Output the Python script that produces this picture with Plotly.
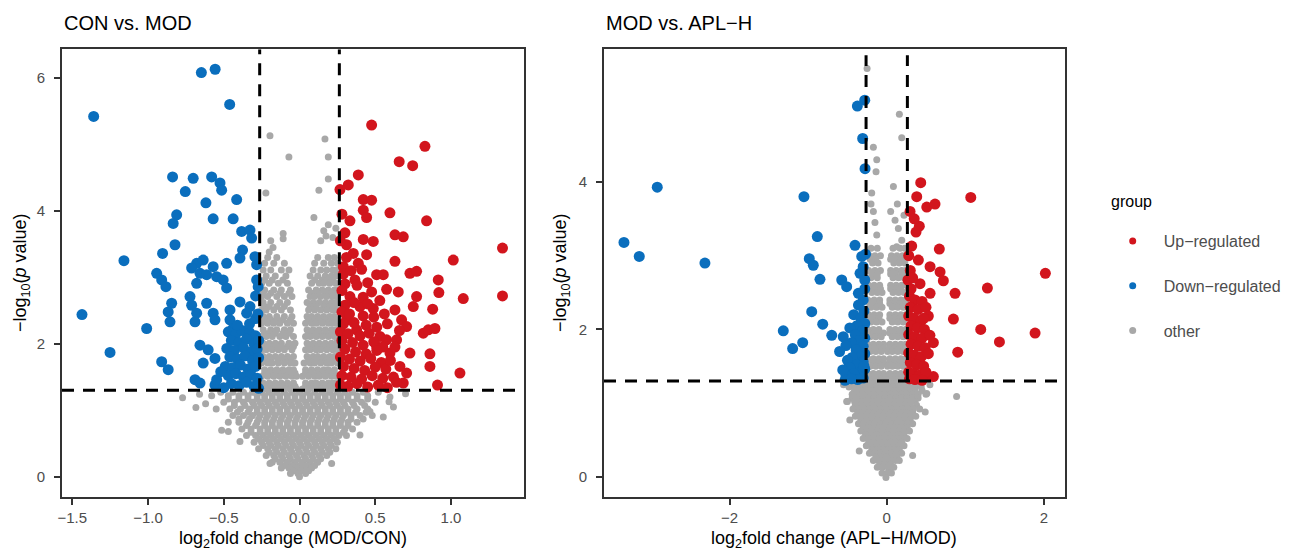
import plotly.graph_objects as go

W, H = 1292, 554
OX, OY = 8, 8  # page body margin offset
RED = "#D2151D"
BLUE = "#0A6EBD"
GRAY = "#A8A8A8"
FONT = "Liberation Sans, Arial, sans-serif"

# ---------------- Panel 1: CON vs. MOD ----------------
L_DOWN = [(-1.359, 5.42), (-0.648, 6.08), (-0.557, 6.13), (-0.461, 5.60),
          (-0.838, 4.51), (-0.702, 4.49), (-0.580, 4.51), (-0.525, 4.42), (-0.514, 4.31), (-0.754, 4.29),
          (-0.415, 4.17), (-0.618, 4.12), (-0.811, 3.94), (-0.834, 3.81), (-0.570, 3.88), (-0.438, 3.88),
          (-0.382, 3.69), (-0.327, 3.71), (-0.316, 3.59), (-0.822, 3.49), (-0.904, 3.36), (-1.159, 3.25),
          (-0.376, 3.41), (-0.393, 3.29), (-0.294, 3.31), (-0.283, 3.19), (-0.679, 3.21), (-0.636, 3.26),
          (-0.712, 3.14), (-0.570, 3.16), (-0.657, 3.06), (-0.613, 3.04), (-0.547, 3.01), (-0.481, 3.21),
          (-0.943, 3.06), (-0.910, 2.96), (-0.882, 2.86), (-0.679, 2.91), (-0.504, 2.96), (-0.481, 2.84),
          (-0.283, 2.96), (-0.273, 2.86), (-0.723, 2.71), (-0.712, 2.58), (-0.613, 2.61), (-0.570, 2.46),
          (-0.558, 2.36), (-0.844, 2.61), (-0.867, 2.48), (-0.855, 2.33), (-0.679, 2.46), (-0.690, 2.33),
          (-0.459, 2.51), (-0.459, 2.36), (-0.393, 2.63), (-0.327, 2.56), (-0.349, 2.46), (-0.438, 2.23),
          (-1.436, 2.44), (-1.009, 2.23), (-1.251, 1.87), (-0.910, 1.73), (-0.867, 1.61), (-0.657, 1.98),
          (-0.603, 1.91), (-0.636, 1.71), (-0.558, 1.78), (-0.690, 1.46), (-0.657, 1.41), (-0.558, 1.38),
          (-0.547, 1.46), (-0.47, 2.18), (-0.42, 2.15), (-0.38, 2.20), (-0.33, 2.17), (-0.29, 2.12),
          (-0.45, 2.05), (-0.40, 2.02), (-0.35, 2.07), (-0.30, 2.00), (-0.27, 2.05), (-0.48, 1.93),
          (-0.43, 1.90), (-0.37, 1.94), (-0.32, 1.88), (-0.28, 1.92), (-0.46, 1.80), (-0.41, 1.77),
          (-0.36, 1.82), (-0.31, 1.75), (-0.27, 1.79), (-0.49, 1.66), (-0.44, 1.64), (-0.39, 1.68),
          (-0.34, 1.62), (-0.29, 1.66), (-0.47, 1.52), (-0.42, 1.55), (-0.37, 1.50), (-0.32, 1.53),
          (-0.28, 1.48), (-0.45, 1.40), (-0.40, 1.37), (-0.35, 1.42), (-0.30, 1.36), (-0.27, 1.33),
          (-0.50, 1.34), (-0.33, 2.30), (-0.29, 2.38), (-0.41, 2.28), (-0.52, 1.58), (-0.29, 2.72),
          (-0.275, 2.45)]

L_UP = [(0.476, 5.29), (0.828, 4.97), (0.658, 4.74), (0.747, 4.68), (0.388, 4.54), (0.322, 4.39),
        (0.267, 4.32), (0.421, 4.17), (0.476, 4.16), (0.421, 4.01), (0.443, 3.90), (0.597, 3.97),
        (0.839, 3.85), (0.333, 3.85), (0.300, 3.67), (0.630, 3.64), (0.685, 3.61), (0.421, 3.57),
        (0.487, 3.54), (0.311, 3.49), (1.340, 3.44), (0.355, 3.36), (0.443, 3.34), (0.630, 3.24),
        (1.015, 3.26), (0.388, 3.21), (0.289, 3.16), (0.509, 3.04), (0.553, 3.04), (0.729, 3.06),
        (0.773, 3.09), (0.916, 2.96), (0.366, 2.96), (0.575, 2.82), (0.652, 2.78), (0.476, 2.78),
        (0.773, 2.71), (0.920, 2.77), (1.081, 2.68), (1.340, 2.72), (0.333, 2.71), (0.399, 2.56),
        (0.487, 2.53), (0.630, 2.51), (0.751, 2.56), (0.879, 2.52), (0.674, 2.36), (0.707, 2.26),
        (0.817, 2.16), (0.850, 2.21), (0.894, 2.23), (0.311, 2.36), (0.377, 2.21), (0.531, 2.11),
        (0.575, 2.06), (0.641, 2.06), (0.509, 1.96), (0.597, 1.86), (0.729, 1.86), (0.861, 1.85),
        (0.861, 1.66), (0.663, 1.66), (0.707, 1.56), (1.059, 1.56), (0.685, 1.41), (0.911, 1.38),
        (0.29, 3.05), (0.34, 3.10), (0.41, 3.12), (0.30, 2.90), (0.38, 2.88), (0.45, 2.92),
        (0.28, 2.80), (0.42, 2.70), (0.36, 2.62), (0.30, 2.58), (0.45, 2.60), (0.53, 2.65),
        (0.28, 2.48), (0.33, 2.45), (0.42, 2.42), (0.49, 2.40), (0.56, 2.45), (0.29, 2.30),
        (0.36, 2.32), (0.44, 2.28), (0.51, 2.25), (0.58, 2.30), (0.27, 2.18), (0.32, 2.15),
        (0.40, 2.12), (0.46, 2.16), (0.28, 2.05), (0.35, 2.02), (0.42, 1.98), (0.49, 2.03),
        (0.55, 1.95), (0.30, 1.92), (0.37, 1.88), (0.44, 1.85), (0.51, 1.90), (0.27, 1.80),
        (0.33, 1.77), (0.40, 1.74), (0.47, 1.78), (0.54, 1.72), (0.29, 1.66), (0.36, 1.63),
        (0.43, 1.60), (0.50, 1.65), (0.57, 1.62), (0.28, 1.52), (0.34, 1.50), (0.41, 1.47),
        (0.48, 1.52), (0.55, 1.48), (0.62, 1.50), (0.27, 1.38), (0.32, 1.36), (0.38, 1.40),
        (0.45, 1.35), (0.52, 1.38), (0.58, 1.34), (0.64, 1.42), (0.60, 1.75), (0.63, 1.95),
        (0.66, 2.20), (0.31, 3.30), (0.27, 3.55), (0.28, 3.95)]

L_OTHER_SPARSE = [(-0.195, 5.13), (0.168, 5.08), (-0.070, 4.81), (0.190, 4.81), (0.190, 4.48),
                  (0.128, 4.31), (-0.222, 4.27), (0.095, 3.90), (0.190, 3.79), (0.16, 3.70),
                  (0.175, 3.62), (0.14, 3.55), (0.22, 3.60), (0.24, 3.74), (-0.108, 3.66),
                  (-0.108, 3.58), (-0.19, 3.55), (-0.175, 3.45), (-0.20, 3.38),
                  (-0.772, 1.19), (-0.684, 1.04), (-0.514, 0.70), (-0.470, 0.68), (-0.393, 0.53),
                  (0.553, 0.90), (0.597, 1.20), (0.465, 0.98), (0.399, 0.63), (0.212, 0.20),
                  (-0.195, 0.20), (0.591, 1.13), (0.70, 1.25), (0.62, 1.05), (-0.62, 1.10), (-0.66, 1.24)]

L_OTHER_ROWS = [
    (3.30, [-0.21, -0.15, 0.12, 0.19, 0.23]),
    (3.21, [-0.23, -0.17, -0.10, 0.10, 0.16, 0.21, 0.25]),
    (3.11, [-0.24, -0.19, -0.12, -0.07, 0.09, 0.14, 0.18, 0.22, 0.25]),
    (3.02, [-0.22, -0.16, -0.09, 0.07, 0.12, 0.17, 0.21, 0.24]),
    (2.96, [-0.23, -0.18, -0.11, 0.10, 0.15, 0.19, 0.22]),
    (2.91, [-0.25, -0.20, -0.14, -0.08, 0.08, 0.13, 0.16, 0.20, 0.24]),
    (2.81, [-0.23, -0.17, -0.12, -0.06, 0.06, 0.11, 0.15, 0.19, 0.23, 0.25]),
    (2.76, [-0.24, -0.19, -0.13, -0.07, 0.08, 0.12, 0.17, 0.21, 0.24]),
    (2.71, [-0.25, -0.21, -0.15, -0.10, -0.05, 0.07, 0.10, 0.14, 0.18, 0.22, 0.25]),
    (2.62, [-0.24, -0.19, -0.13, -0.08, 0.05, 0.09, 0.13, 0.17, 0.21, 0.24]),
    (2.56, [-0.23, -0.20, -0.15, -0.10, 0.07, 0.11, 0.16, 0.20, 0.23]),
    (2.51, [-0.25, -0.22, -0.17, -0.12, -0.06, 0.06, 0.10, 0.14, 0.18, 0.22, 0.25]),
    (2.41, [-0.24, -0.20, -0.15, -0.10, -0.05, 0.05, 0.08, 0.12, 0.16, 0.20, 0.23]),
    (2.36, [-0.23, -0.19, -0.15, -0.11, -0.06, 0.06, 0.10, 0.13, 0.17, 0.21, 0.24]),
    (2.31, [-0.25, -0.21, -0.17, -0.13, -0.08, -0.04, 0.04, 0.08, 0.11, 0.15, 0.19, 0.22, 0.25]),
    (2.21, [-0.24, -0.19, -0.15, -0.10, -0.06, 0.05, 0.09, 0.13, 0.17, 0.21, 0.24]),
    (2.16, [-0.23, -0.20, -0.16, -0.11, -0.07, 0.06, 0.09, 0.13, 0.17, 0.21, 0.24]),
    (2.11, [-0.25, -0.22, -0.18, -0.13, -0.09, -0.04, 0.04, 0.07, 0.11, 0.15, 0.19, 0.23, 0.25]),
    (2.01, [-0.24, -0.20, -0.16, -0.12, -0.07, -0.03, 0.05, 0.09, 0.13, 0.17, 0.21, 0.24]),
    (1.96, [-0.23, -0.20, -0.16, -0.12, -0.08, -0.04, 0.06, 0.09, 0.12, 0.16, 0.20, 0.23]),
    (1.91, [-0.25, -0.22, -0.18, -0.14, -0.10, -0.05, 0.04, 0.07, 0.11, 0.14, 0.18, 0.22, 0.25]),
    (1.81, [-0.24, -0.20, -0.16, -0.12, -0.08, -0.04, 0.05, 0.09, 0.12, 0.16, 0.20, 0.23]),
    (1.76, [-0.23, -0.19, -0.14, -0.10, -0.06, 0.06, 0.10, 0.14, 0.18, 0.22]),
    (1.71, [-0.25, -0.21, -0.18, -0.14, -0.10, -0.06, -0.03, 0.03, 0.07, 0.10, 0.14, 0.18, 0.21, 0.25]),
    (1.61, [-0.23, -0.19, -0.15, -0.11, -0.07, -0.04, 0.04, 0.08, 0.12, 0.16, 0.19, 0.23]),
    (1.56, [-0.23, -0.19, -0.15, -0.11, -0.07, -0.03, 0.04, 0.08, 0.12, 0.15, 0.19, 0.23]),
    (1.51, [-0.25, -0.21, -0.17, -0.13, -0.09, -0.05, -0.02, 0.02, 0.06, 0.10, 0.13, 0.17, 0.21, 0.24]),
    (1.41, [-0.24, -0.20, -0.16, -0.12, -0.08, -0.04, 0.04, 0.08, 0.11, 0.15, 0.19, 0.22, 0.25]),
    (1.36, [-0.23, -0.19, -0.15, -0.11, -0.07, -0.03, 0.04, 0.08, 0.12, 0.16, 0.20, 0.23]),
    (1.32, [-0.25, -0.22, -0.18, -0.14, -0.10, -0.06, -0.02, 0.02, 0.06, 0.10, 0.14, 0.18, 0.21, 0.25]),
    (1.27, [-0.52, -0.44, -0.37, -0.31, -0.25, -0.20, -0.15, -0.10, -0.05, 0.00, 0.05, 0.10, 0.15,
            0.20, 0.25, 0.30, 0.35, 0.42, 0.52]),
    (1.22, [-0.58, -0.47, -0.40, -0.34, -0.28, -0.23, -0.18, -0.13, -0.08, -0.03, 0.02, 0.07, 0.12,
            0.17, 0.22, 0.27, 0.32, 0.38, 0.45]),
    (1.17, [-0.47, -0.40, -0.34, -0.28, -0.23, -0.18, -0.13, -0.08, -0.03, 0.02, 0.07, 0.12, 0.17,
            0.22, 0.27, 0.32, 0.38, 0.45]),
    (1.12, [-0.50, -0.43, -0.37, -0.31, -0.26, -0.21, -0.16, -0.11, -0.06, -0.01, 0.04, 0.09, 0.14,
            0.19, 0.24, 0.29, 0.35, 0.41, 0.50]),
    (1.07, [-0.43, -0.36, -0.30, -0.25, -0.20, -0.15, -0.10, -0.05, 0.00, 0.05, 0.10, 0.15, 0.20,
            0.25, 0.30, 0.36, 0.43]),
    (1.02, [-0.55, -0.46, -0.39, -0.33, -0.28, -0.23, -0.18, -0.13, -0.08, -0.03, 0.02, 0.07, 0.12,
            0.17, 0.22, 0.27, 0.32, 0.38, 0.45]),
    (0.97, [-0.41, -0.34, -0.28, -0.23, -0.18, -0.13, -0.08, -0.03, 0.02, 0.07, 0.12, 0.17, 0.22,
            0.27, 0.32, 0.37, 0.44]),
    (0.92, [-0.44, -0.37, -0.31, -0.26, -0.21, -0.16, -0.11, -0.06, -0.01, 0.04, 0.09, 0.14, 0.19,
            0.24, 0.29, 0.34, 0.40, 0.48]),
    (0.87, [-0.40, -0.33, -0.27, -0.22, -0.17, -0.12, -0.07, -0.02, 0.03, 0.08, 0.13, 0.18, 0.23,
            0.28, 0.34, 0.42]),
    (0.82, [-0.47, -0.40, -0.34, -0.28, -0.23, -0.18, -0.13, -0.08, -0.03, 0.02, 0.07, 0.12, 0.17,
            0.22, 0.27, 0.32, 0.38]),
    (0.77, [-0.35, -0.29, -0.23, -0.18, -0.13, -0.08, -0.03, 0.02, 0.07, 0.12, 0.17, 0.22, 0.27, 0.32]),
    (0.72, [-0.38, -0.32, -0.26, -0.21, -0.16, -0.11, -0.06, -0.01, 0.04, 0.09, 0.14, 0.19, 0.24,
            0.30, 0.35]),
    (0.67, [-0.32, -0.26, -0.21, -0.16, -0.11, -0.06, -0.01, 0.04, 0.09, 0.14, 0.19, 0.24, 0.29]),
    (0.62, [-0.35, -0.29, -0.24, -0.19, -0.14, -0.09, -0.04, 0.01, 0.06, 0.11, 0.16, 0.21, 0.26, 0.31]),
    (0.57, [-0.27, -0.22, -0.17, -0.12, -0.07, -0.02, 0.03, 0.08, 0.13, 0.18, 0.23]),
    (0.52, [-0.30, -0.25, -0.20, -0.15, -0.10, -0.05, 0.00, 0.05, 0.10, 0.15, 0.20, 0.25]),
    (0.47, [-0.24, -0.19, -0.14, -0.09, -0.04, 0.01, 0.06, 0.11, 0.16, 0.21]),
    (0.42, [-0.27, -0.21, -0.16, -0.11, -0.06, -0.01, 0.04, 0.09, 0.14, 0.19, 0.24]),
    (0.37, [-0.20, -0.15, -0.10, -0.05, 0.00, 0.05, 0.10, 0.15, 0.20]),
    (0.32, [-0.22, -0.17, -0.12, -0.07, -0.02, 0.03, 0.08, 0.13, 0.18]),
    (0.27, [-0.16, -0.11, -0.06, -0.01, 0.04, 0.09, 0.14]),
    (0.22, [-0.18, -0.13, -0.08, -0.03, 0.02, 0.07, 0.12]),
    (0.17, [-0.10, -0.05, 0.00, 0.05, 0.10]),
    (0.13, [-0.12, -0.07, -0.02, 0.03, 0.08]),
    (0.09, [-0.04, 0.01, 0.06]),
    (0.05, [-0.06, -0.01, 0.04]),
    (0.00, [0.00]),
]

# ---------------- Panel 2: MOD vs. APL-H ----------------
R_DOWN = [(-3.346, 3.18), (-3.151, 2.99), (-2.922, 3.93), (-2.315, 2.90), (-1.317, 1.98), (-1.198, 1.74),
          (-0.28, 5.11), (-0.374, 5.03), (-0.306, 4.59), (-0.276, 4.18), (-1.054, 3.80), (-0.884, 3.26),
          (-0.404, 3.14), (-0.986, 2.96), (-0.935, 2.87), (-0.318, 2.99), (-0.850, 2.68), (-0.573, 2.67),
          (-0.510, 2.58), (-0.340, 2.76), (-0.28, 2.67), (-0.361, 2.49), (-0.955, 2.24), (-0.815, 2.07),
          (-1.07, 1.82), (-0.70, 1.92), (-0.553, 1.90), (-0.531, 1.31),
          (-0.30, 2.40), (-0.36, 2.33), (-0.29, 2.25), (-0.42, 2.20), (-0.33, 2.15), (-0.28, 2.08),
          (-0.38, 2.05), (-0.47, 2.02), (-0.31, 1.98), (-0.40, 1.93), (-0.28, 1.88), (-0.35, 1.85),
          (-0.45, 1.82), (-0.52, 1.78), (-0.30, 1.77), (-0.39, 1.72), (-0.28, 1.67), (-0.34, 1.63),
          (-0.44, 1.62), (-0.50, 1.58), (-0.30, 1.56), (-0.38, 1.52), (-0.47, 1.48), (-0.28, 1.46),
          (-0.33, 1.42), (-0.42, 1.40), (-0.52, 1.37), (-0.30, 1.34), (-0.37, 1.32), (-0.45, 1.33),
          (-0.28, 2.55), (-0.30, 2.85), (-0.27, 3.02), (-0.29, 1.50), (-0.56, 1.45), (-0.60, 1.70)]

R_UP = [(0.433, 3.99), (0.382, 3.80), (1.070, 3.79), (0.297, 3.60), (0.510, 3.66), (0.615, 3.70),
        (0.415, 3.40), (0.373, 3.32), (0.318, 3.13), (0.670, 3.09), (0.403, 2.94), (0.552, 2.85),
        (0.679, 2.78), (0.721, 2.66), (2.02, 2.76), (0.27, 2.67), (0.424, 2.62), (0.870, 2.49),
        (1.282, 2.56), (0.552, 2.49), (0.849, 2.14), (1.197, 2.00), (1.435, 1.83), (1.889, 1.95),
        (0.904, 1.69), (0.594, 1.82), (0.594, 1.36), (0.51, 1.36),
        (0.29, 2.45), (0.36, 2.40), (0.45, 2.38), (0.30, 2.30), (0.40, 2.27), (0.50, 2.30),
        (0.28, 2.18), (0.35, 2.15), (0.44, 2.12), (0.53, 2.18), (0.31, 2.05), (0.39, 2.02),
        (0.48, 2.00), (0.28, 1.93), (0.36, 1.90), (0.45, 1.88), (0.55, 1.92), (0.31, 1.80),
        (0.40, 1.77), (0.49, 1.75), (0.28, 1.68), (0.35, 1.65), (0.44, 1.63), (0.53, 1.67),
        (0.30, 1.55), (0.38, 1.52), (0.47, 1.50), (0.28, 1.42), (0.34, 1.40), (0.42, 1.38),
        (0.50, 1.42), (0.29, 1.33), (0.36, 1.32), (0.45, 1.31), (0.31, 2.55), (0.30, 2.80),
        (0.28, 3.00), (0.35, 3.50), (0.33, 2.70), (0.47, 2.15)]

R_OTHER_SPARSE = [(-0.25, 5.54), (0.161, 4.92), (0.191, 4.60), (-0.170, 4.47), (-0.127, 4.30),
                  (-0.136, 4.14), (-0.191, 3.85), (0.085, 3.94), (0.135, 3.70), (-0.170, 3.60),
                  (-0.127, 3.28), (0.106, 3.48), (0.148, 3.37), (0.191, 3.21), (0.127, 3.12),
                  (-0.15, 3.45), (-0.20, 3.70), (0.22, 3.55), (0.05, 3.60),
                  (0.89, 1.09), (-0.35, 0.35), (0.33, 0.29), (-0.51, 1.02), (-0.47, 0.77),
                  (0.51, 1.13), (0.49, 0.88), (-0.55, 1.25), (0.55, 1.25)]

R_OTHER_ROWS = [
    (3.10, [-0.20, -0.12, 0.08, 0.17, 0.23]),
    (3.00, [-0.22, -0.15, -0.08, 0.06, 0.13, 0.20]),
    (2.95, [-0.21, -0.14, 0.05, 0.12, 0.19]),
    (2.90, [-0.18, -0.11, 0.09, 0.16, 0.23]),
    (2.80, [-0.23, -0.15, -0.08, 0.05, 0.12, 0.19, 0.24]),
    (2.75, [-0.19, -0.12, 0.05, 0.11, 0.19, 0.25]),
    (2.70, [-0.20, -0.12, 0.08, 0.15, 0.22]),
    (2.60, [-0.23, -0.16, -0.09, 0.05, 0.12, 0.19, 0.25]),
    (2.55, [-0.22, -0.15, -0.08, 0.05, 0.12, 0.18]),
    (2.50, [-0.19, -0.12, -0.06, 0.08, 0.15, 0.22]),
    (2.40, [-0.24, -0.16, -0.09, 0.04, 0.11, 0.18, 0.24]),
    (2.35, [-0.22, -0.16, -0.09, 0.04, 0.10, 0.17, 0.24]),
    (2.30, [-0.20, -0.13, -0.06, 0.07, 0.14, 0.21]),
    (2.20, [-0.23, -0.16, -0.09, 0.04, 0.11, 0.18, 0.24]),
    (2.15, [-0.22, -0.16, -0.10, 0.04, 0.10, 0.17, 0.24]),
    (2.10, [-0.20, -0.13, -0.06, 0.07, 0.14, 0.21]),
    (2.00, [-0.24, -0.17, -0.10, 0.04, 0.11, 0.18, 0.24]),
    (1.95, [-0.22, -0.16, -0.10, -0.04, 0.04, 0.10, 0.17, 0.24]),
    (1.90, [-0.21, -0.14, -0.07, 0.07, 0.14, 0.21]),
    (1.80, [-0.24, -0.17, -0.10, -0.04, 0.04, 0.11, 0.18, 0.24]),
    (1.75, [-0.22, -0.16, -0.10, -0.04, 0.04, 0.10, 0.17, 0.24]),
    (1.70, [-0.21, -0.14, -0.07, 0.01, 0.07, 0.14, 0.21]),
    (1.60, [-0.24, -0.17, -0.10, -0.04, 0.04, 0.11, 0.18, 0.24]),
    (1.55, [-0.22, -0.16, -0.10, -0.04, 0.04, 0.10, 0.17, 0.24]),
    (1.50, [-0.21, -0.14, -0.07, 0.01, 0.07, 0.14, 0.21]),
    (1.40, [-0.24, -0.17, -0.10, -0.04, 0.04, 0.11, 0.18, 0.24]),
    (1.36, [-0.24, -0.17, -0.10, -0.04, 0.02, 0.08, 0.15, 0.22]),
    (1.32, [-0.21, -0.14, -0.07, -0.01, 0.05, 0.12, 0.19, 0.25]),
    (1.27, [-0.45, -0.38, -0.31, -0.24, -0.17, -0.10, -0.03, 0.04, 0.11, 0.18, 0.25, 0.32, 0.40]),
    (1.22, [-0.48, -0.41, -0.34, -0.27, -0.20, -0.13, -0.06, 0.01, 0.08, 0.15, 0.22, 0.29, 0.36, 0.44]),
    (1.17, [-0.41, -0.34, -0.27, -0.20, -0.13, -0.06, 0.01, 0.08, 0.15, 0.22, 0.29, 0.36, 0.45]),
    (1.12, [-0.44, -0.37, -0.30, -0.23, -0.16, -0.09, -0.02, 0.05, 0.12, 0.19, 0.26, 0.33, 0.40, 0.50]),
    (1.07, [-0.44, -0.37, -0.30, -0.23, -0.16, -0.09, -0.02, 0.05, 0.12, 0.19, 0.26, 0.33, 0.40]),
    (1.02, [-0.50, -0.41, -0.34, -0.27, -0.20, -0.13, -0.06, 0.01, 0.08, 0.15, 0.22, 0.29, 0.36]),
    (0.97, [-0.40, -0.33, -0.26, -0.19, -0.12, -0.05, 0.02, 0.09, 0.16, 0.23, 0.30, 0.38]),
    (0.92, [-0.43, -0.36, -0.29, -0.22, -0.15, -0.08, -0.01, 0.06, 0.13, 0.20, 0.27, 0.34, 0.42]),
    (0.87, [-0.37, -0.30, -0.23, -0.16, -0.09, -0.02, 0.05, 0.12, 0.19, 0.26, 0.33]),
    (0.82, [-0.40, -0.33, -0.26, -0.19, -0.12, -0.05, 0.02, 0.09, 0.16, 0.23, 0.30, 0.37]),
    (0.77, [-0.33, -0.26, -0.19, -0.12, -0.05, 0.02, 0.09, 0.16, 0.23, 0.30]),
    (0.72, [-0.36, -0.29, -0.22, -0.15, -0.08, -0.01, 0.06, 0.13, 0.20, 0.27, 0.33]),
    (0.67, [-0.30, -0.23, -0.16, -0.09, -0.02, 0.05, 0.12, 0.19, 0.26]),
    (0.62, [-0.33, -0.26, -0.19, -0.12, -0.05, 0.02, 0.09, 0.16, 0.23, 0.29]),
    (0.57, [-0.27, -0.20, -0.13, -0.06, 0.01, 0.08, 0.15, 0.22]),
    (0.52, [-0.30, -0.23, -0.16, -0.09, -0.02, 0.05, 0.12, 0.19, 0.26]),
    (0.47, [-0.23, -0.16, -0.09, -0.02, 0.05, 0.12, 0.19]),
    (0.42, [-0.26, -0.19, -0.12, -0.05, 0.02, 0.09, 0.16, 0.22]),
    (0.37, [-0.19, -0.12, -0.05, 0.02, 0.09, 0.16]),
    (0.32, [-0.22, -0.15, -0.08, -0.01, 0.06, 0.13, 0.19]),
    (0.27, [-0.14, -0.07, 0.00, 0.07, 0.13]),
    (0.22, [-0.17, -0.10, -0.03, 0.04, 0.11, 0.16]),
    (0.17, [-0.09, -0.02, 0.05]),
    (0.13, [-0.12, -0.05, 0.02, 0.09]),
    (0.05, [-0.06, 0.01, 0.06]),
    (-0.01, [-0.01]),
]

GROUPS = ["Up\u2212regulated", "Down\u2212regulated", "other"]
GROUP_COLORS = [RED, BLUE, GRAY]
FC_CUT = 0.263
P_CUT = 1.301


def px_x(p):
    return (p - OX) / W


def px_y(p):
    return 1 - (p - OY) / H


def rows_to_xy(rows, extra):
    xs, ys = [], []
    for y, row in rows:
        for x in row:
            xs.append(x)
            ys.append(y)
    for x, y in extra:
        xs.append(x)
        ys.append(y)
    return xs, ys


def unzip(pairs):
    return [p[0] for p in pairs], [p[1] for p in pairs]


fig = go.Figure()

panels = [
    ("x", "y", L_OTHER_ROWS, L_OTHER_SPARSE, L_DOWN, L_UP),
    ("x2", "y2", R_OTHER_ROWS, R_OTHER_SPARSE, R_DOWN, R_UP),
]
for xa, ya, rows, sparse, down, up in panels:
    gx, gy = rows_to_xy(rows, sparse)
    fig.add_trace(go.Scatter(x=gx, y=gy, mode="markers", xaxis=xa, yaxis=ya, showlegend=False,
                             marker=dict(color=GRAY, size=7, line=dict(width=0)), hoverinfo="skip"))
    dx, dy = unzip(down)
    fig.add_trace(go.Scatter(x=dx, y=dy, mode="markers", xaxis=xa, yaxis=ya, showlegend=False,
                             marker=dict(color=BLUE, size=11, line=dict(width=0))))
    ux, uy = unzip(up)
    fig.add_trace(go.Scatter(x=ux, y=uy, mode="markers", xaxis=xa, yaxis=ya, showlegend=False,
                             marker=dict(color=RED, size=11, line=dict(width=0))))

# legend entries
for name, col in zip(GROUPS, GROUP_COLORS):
    fig.add_trace(go.Scatter(x=[None], y=[None], mode="markers", name=name, legendgroup=name,
                             marker=dict(color=col, size=7), showlegend=True))

x1_dom = [px_x(62), px_x(524)]
x2_dom = [px_x(604), px_x(1065)]
y_dom = [px_y(496.7), px_y(49.3)]

axis_common = dict(showline=True, linecolor="#333333", linewidth=1.6, mirror=True,
                   ticks="outside", ticklen=6, tickwidth=1.6, tickcolor="#333333",
                   showgrid=False, zeroline=False,
                   tickfont=dict(family=FONT, size=15, color="#4d4d4d"), automargin=False)

fig.update_layout(
    width=W, height=H,
    margin=dict(l=0, r=0, t=0, b=0),
    paper_bgcolor="white", plot_bgcolor="white",
    font=dict(family=FONT, color="black"),
    xaxis=dict(domain=x1_dom, range=[-1.568, 1.482], tickvals=[-1.5, -1.0, -0.5, 0.0, 0.5, 1.0],
               tickformat=".1f", anchor="y", **axis_common),
    yaxis=dict(domain=y_dom, range=[-0.30, 6.43], tickvals=[0, 2, 4, 6], anchor="x",
               ticklabelstandoff=6, **axis_common),
    xaxis2=dict(domain=x2_dom, range=[-3.60, 2.27], tickvals=[-2, 0, 2], anchor="y2", **axis_common),
    yaxis2=dict(domain=y_dom, range=[-0.27, 5.80], tickvals=[0, 2, 4], anchor="x2",
                ticklabelstandoff=6, **axis_common),
    legend=dict(x=px_x(1101.7), y=px_y(224), xanchor="left", yanchor="top",
                font=dict(family=FONT, size=16, color="#4d4d4d"),
                itemwidth=52, tracegroupgap=21, bgcolor="rgba(0,0,0,0)"),
    showlegend=True,
)

dash = "12px,9px"
line_style = dict(color="black", width=3, dash=dash)
shapes = []
for xr, yr, xmin, xmax, ytop in [("x", "y", -1.568, 1.482, 6.43), ("x2", "y2", -3.60, 2.27, 5.72)]:
    shapes.append(dict(type="line", xref=xr, yref=yr, x0=xmin, x1=xmax, y0=P_CUT, y1=P_CUT, line=line_style))
    for xv in (-FC_CUT, FC_CUT):
        shapes.append(dict(type="line", xref=xr, yref=yr, x0=xv, x1=xv, y0=P_CUT, y1=ytop, line=line_style))
fig.update_layout(shapes=shapes)

ann = []
ann.append(dict(text="CON vs. MOD", x=px_x(62), y=px_y(22.7), xref="paper", yref="paper",
                xanchor="left", yanchor="middle", showarrow=False,
                font=dict(family=FONT, size=20, color="black")))
ann.append(dict(text="MOD vs. APL\u2212H", x=px_x(604), y=px_y(22.7), xref="paper", yref="paper",
                xanchor="left", yanchor="middle", showarrow=False,
                font=dict(family=FONT, size=20, color="black")))
ann.append(dict(text="group", x=px_x(1109), y=px_y(201.7), xref="paper", yref="paper",
                xanchor="left", yanchor="middle", showarrow=False,
                font=dict(family=FONT, size=16, color="black")))
ytitle = "\u2212log<sub>10</sub>(<i>p</i> value)"
for xpix in (21, 561):
    ann.append(dict(text=ytitle, x=px_x(xpix), y=px_y(273), xref="paper", yref="paper",
                    xanchor="center", yanchor="middle", textangle=-90, showarrow=False,
                    font=dict(family=FONT, size=18, color="black")))
for txt, xpix in (("log<sub>2</sub>fold change (MOD/CON)", 293),
                  ("log<sub>2</sub>fold change (APL\u2212H/MOD)", 834.5)):
    ann.append(dict(text=txt, x=px_x(xpix), y=px_y(539), xref="paper", yref="paper",
                    xanchor="center", yanchor="middle", showarrow=False,
                    font=dict(family=FONT, size=18, color="black")))
fig.update_layout(annotations=ann)

fig.write_html("out.html")
